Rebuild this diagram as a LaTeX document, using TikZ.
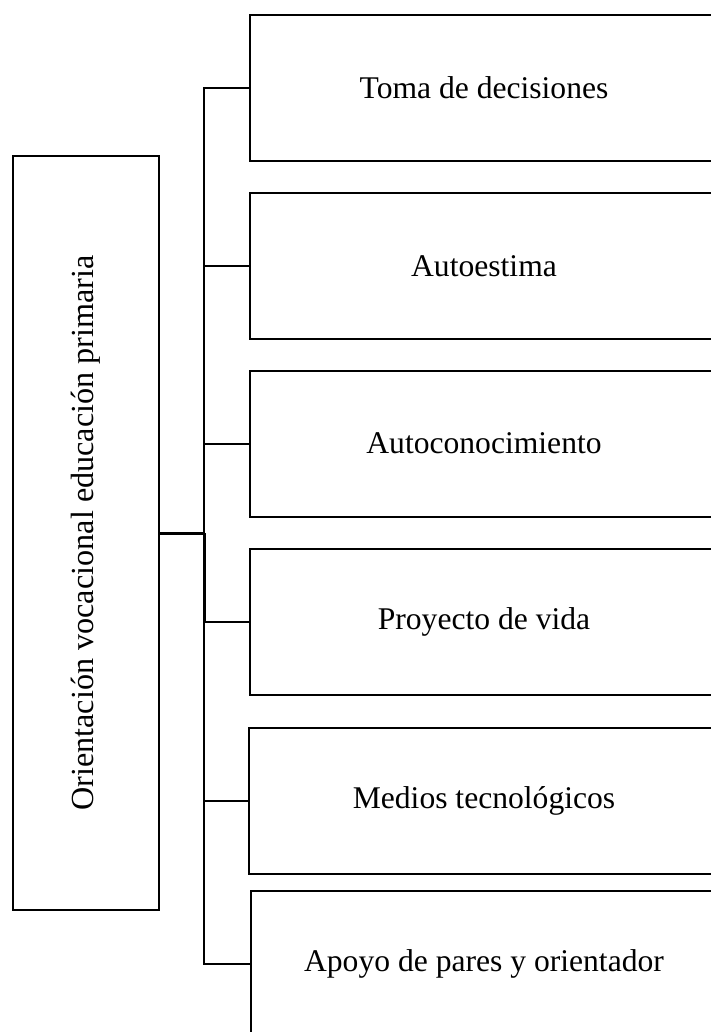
\documentclass[tikz,border=0pt]{standalone}
\usepackage{fontspec}
\setmainfont{Liberation Serif}
\begin{document}
\begin{tikzpicture}[x=1pt,y=-1pt,
  box/.style={draw=black, line width=2pt, rectangle, minimum width=466pt, minimum height=146pt, anchor=west, inner sep=0pt},
  boxtext/.style={font=\fontsize{31.6}{37}\selectfont},
  link/.style={line width=2pt},
  mainlink/.style={line width=3pt}]
\useasboundingbox (0,0) rectangle (711,1032);
\clip (0,0) rectangle (711,1032);
\node[draw=black, line width=2pt, rectangle, minimum width=146pt, minimum height=754pt, inner sep=0pt, font=\fontsize{32.2}{37}\selectfont] (main) at (86,533) {\rotatebox{90}{Orientación vocacional educación primaria}};
\node[box] (b1) at (249,88) {};
\node[box] (b2) at (249,266) {};
\node[box] (b3) at (249,443.5) {};
\node[box] (b4) at (249,621.5) {};
\node[box] (b5) at (248,800.5) {};
\node[box] (b6) at (250,964) {};
\node[boxtext] (t1) at (484,88) {Toma de decisiones};
\node[boxtext] (t2) at (484,266) {Autoestima};
\node[boxtext] (t3) at (484,443.5) {Autoconocimiento};
\node[boxtext] (t4) at (484,621.5) {Proyecto de vida};
\node[boxtext] (t5) at (484,800.5) {Medios tecnológicos};
\node[boxtext] (t6) at (484,964) {Apoyo de pares y orientador};
\coordinate (j) at (204,533);
\draw[mainlink] (main.east) -- (j);
\draw[link, line join=miter] (b1.west) -- (b1.west -| j) -- (b6.west -| j) -- (b6.west);
\draw[mainlink] (j) -- (b4.west -| j);
\draw[link] (b2.west) -- (b2.west -| j);
\draw[link] (b3.west) -- (b3.west -| j);
\draw[link] (b4.west) -- (b4.west -| j);
\draw[link] (b5.west) -- (b5.west -| j);
\end{tikzpicture}
\end{document}
